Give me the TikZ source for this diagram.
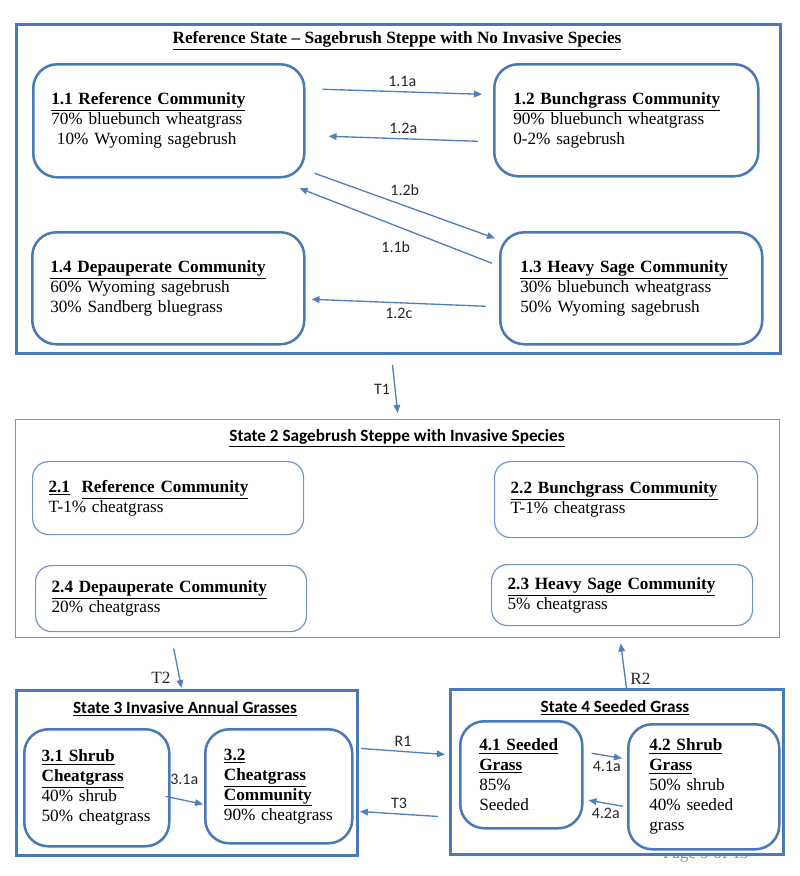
\documentclass[tikz,border=0pt]{standalone}
\usepackage{fontspec}
\setmainfont{Liberation Serif}
\newfontfamily\carlito{Carlito}
\usetikzlibrary{arrows.meta}
\definecolor{boxblue}{RGB}{74,122,181}
\definecolor{lineblue}{RGB}{79,129,189}
\definecolor{paleblue}{RGB}{112,150,200}
\hyphenpenalty=10000
\exhyphenpenalty=10000

\begin{document}
\begin{tikzpicture}[x=0.75pt, y=-0.75pt,
    statebox/.style={draw=boxblue, line width=2.2pt, anchor=north west, inner sep=0pt},
    comm/.style={draw=boxblue, line width=1.9pt, rounded corners=18pt, anchor=north west,
        align=left, inner ysep=0pt, font=\fontsize{12.9}{15}\selectfont},
    arr/.style={draw=lineblue, line width=1pt, -{Triangle[length=6pt,width=5pt]}},
    lbl/.style={font=\carlito\fontsize{12}{14}\selectfont, text=black!85},
    serlbl/.style={font=\fontsize{12.9}{15}\selectfont, text=black!85},
    sttitle/.style={font=\fontsize{12.9}{15}\selectfont\bfseries},
    cttitle/.style={font=\carlito\bfseries\fontsize{12.9}{15}\selectfont}]
    \useasboundingbox (0,0) rectangle (800,876);

    % state boxes
    \node[statebox, minimum width=573pt, minimum height=246.75pt] (s1) at (15,23) {};
    \node[statebox, draw=paleblue, line width=1.1pt, minimum width=573pt, minimum height=163.5pt] (s2) at (15,419) {};
    \node[statebox, minimum width=255.75pt, minimum height=123.75pt] (s3) at (15,689) {};
    \node[text=black!45, font=\fontsize{12.9}{15}\selectfont, anchor=base] (pg) at (706,858) {Page 9 of 19};
    \node[statebox, fill=white, minimum width=249.75pt, minimum height=123.75pt] (s4) at (449,688) {};

    \node[sttitle] (t1) at (397,41) {\underline{Reference State -- Sagebrush Steppe with No Invasive Species}};
    \node[cttitle] (t2) at (397,438) {\underline{State 2 Sagebrush Steppe with Invasive Species}};
    \node[cttitle] (t3) at (185,709) {\underline{State 3 Invasive Annual Grasses}};
    \node[cttitle] (t4) at (615,708) {\underline{State 4 Seeded Grass}};

    % state 1
    \node[comm, minimum height=84.75pt, text width=176.25pt, inner xsep=13.5pt] (n11) at (32,63)
        {\textbf{\underline{1.1 Reference Community}}\\70\% bluebunch wheatgrass\\~10\% Wyoming sagebrush};
    \node[comm, minimum height=84pt, text width=169.5pt, inner xsep=14.25pt] (n12) at (493,63)
        {\textbf{\underline{1.2 Bunchgrass Community}}\\90\% bluebunch wheatgrass\\0-2\% sagebrush};
    \node[comm, minimum height=84pt, text width=166.5pt, inner xsep=15pt] (n13) at (499,231)
        {\textbf{\underline{1.3 Heavy Sage Community}}\\30\% bluebunch wheatgrass\\50\% Wyoming sagebrush};
    \node[comm, minimum height=84pt, text width=177pt, inner xsep=13.5pt] (n14) at (31,231)
        {\textbf{\underline{1.4 Depauperate Community}}\\60\% Wyoming sagebrush\\30\% Sandberg bluegrass};

    \draw[arr] ([shift={(17,-31.5)}]n11.east) -- node[lbl, above] (l11a) {1.1a} ([shift={(-11,-26)}]n12.west);
    \draw[arr] ([shift={(-15,21)}]n12.west) -- node[lbl, above] (l12a) {1.2a} ([shift={(23,15.5)}]n11.east);
    \draw[arr] ([shift={(9,52.5)}]n11.east) -- node[lbl, above=4pt] (l12b) {1.2b} ([shift={(-4,-50)}]n13.west);
    \draw[arr] ([shift={(-7,-25)}]n13.west) -- node[lbl, below=8pt] (l11b) {1.1b} ([shift={(-6,67.5)}]n11.east);
    \draw[arr] ([shift={(-13,18)}]n13.west) -- node[lbl, below] (l12c) {1.2c} ([shift={(6,11)}]n14.east);

    % state 2
    \node[comm, draw=paleblue, line width=0.9pt, rounded corners=12pt, minimum height=54.75pt, text width=179.25pt, inner xsep=12pt] (n21) at (32,461)
        {\textbf{\underline{2.1}\ \ \underline{Reference Community}}\\T-1\% cheatgrass};
    \node[comm, draw=paleblue, line width=0.9pt, rounded corners=12pt, minimum height=57pt, text width=173.25pt, inner xsep=12pt] (n22) at (494,461)
        {\textbf{\underline{2.2 Bunchgrass Community}}\\T-1\% cheatgrass};
    \node[comm, draw=paleblue, line width=0.9pt, rounded corners=12pt, minimum height=45.75pt, text width=171.75pt, inner xsep=12pt] (n23) at (491,564)
        {\textbf{\underline{2.3 Heavy Sage Community}}\\5\% cheatgrass};
    \node[comm, draw=paleblue, line width=0.9pt, rounded corners=12pt, minimum height=49.5pt, text width=179.25pt, inner xsep=12pt] (n24) at (35,565)
        {\textbf{\underline{2.4 Depauperate Community}}\\20\% cheatgrass};

    % state 3 and 4
    \node[comm, minimum height=87.75pt, text width=82.75pt, inner xsep=13pt] (n31) at (23,728)
        {\textbf{\underline{3.1 Shrub}}\\\textbf{\underline{Cheatgrass}}\\40\% shrub\\50\% cheatgrass};
    \node[comm, minimum height=85.5pt, text width=82.25pt, inner xsep=14pt] (n32) at (204,728)
        {\textbf{\underline{3.2}}\\\textbf{\underline{Cheatgrass}}\\\textbf{\underline{Community}}\\90\% cheatgrass};
    \node[comm, minimum height=80.25pt, text width=63pt, inner xsep=14.25pt] (n41) at (459,720)
        {\textbf{\underline{4.1 Seeded}}\\\textbf{\underline{Grass}}\\85\%\\Seeded};
    \node[comm, minimum height=93.75pt, text width=81.75pt, inner xsep=15.75pt] (n42) at (627,723)
        {\textbf{\underline{4.2 Shrub}}\\\textbf{\underline{Grass}}\\50\% shrub\\40\% seeded\\grass};

    \draw[arr] ([shift={(-5,8.5)}]n31.east) -- node[lbl, above=8pt] (l31a) {3.1a} ([shift={(-1,18)}]n32.west);
    \draw[arr] ([shift={(8,-21.5)}]n41.east) -- node[lbl, below] (l41a) {4.1a} ([shift={(-5,-28.5)}]n42.west);
    \draw[arr] ([shift={(-4,19.5)}]n42.west) -- node[lbl, below] (l42a) {4.2a} ([shift={(5,25.5)}]n41.east);

    % transitions between states
    \draw[arr] ([shift={(-6,10)}]s1.south) -- node[lbl, left] (lt1) {T1} ([shift={(0,-6)}]s2.north);
    \draw[arr] ([shift={(-224,10)}]s2.south) -- node[serlbl, left=3pt, pos=.75] (lt2) {T2} ([shift={(-5.5,-1)}]s3.north);
    \draw[arr] ([shift={(2,-24.5)}]s3.east) -- node[lbl, above] (lr1) {R1} ([shift={(-4,-17.5)}]s4.west);
    \draw[arr] ([shift={(-11,44.5)}]s4.west) -- node[lbl, above] (lt3) {T3} ([shift={(1,38.5)}]s3.east);
    \draw[arr] ([shift={(9.5,0)}]s4.north) -- node[serlbl, right, pos=.2] (lr2) {R2} ([shift={(223,5)}]s2.south);
\end{tikzpicture}
\end{document}
